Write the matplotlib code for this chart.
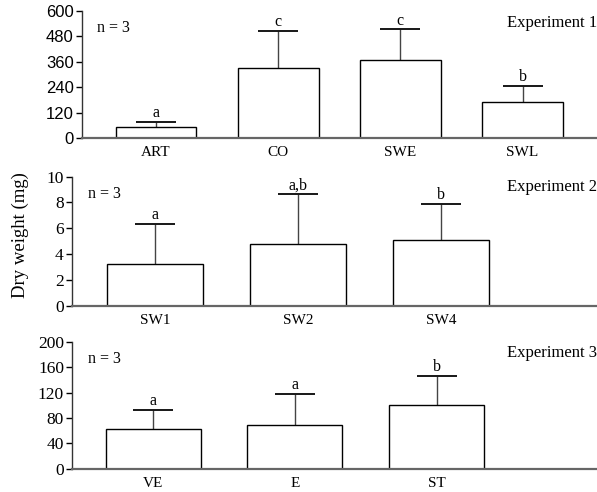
import matplotlib

matplotlib.use("Agg")

import matplotlib.pyplot as plt
import numpy as np

SERIF = ["Liberation Serif", "DejaVu Serif"]
SANS = ["Liberation Sans", "DejaVu Sans"]

# Experiment 1
exp1_labels = ["ART", "CO", "SWE", "SWL"]
exp1_means = [52, 329, 367, 169]
exp1_err = [22, 176, 146, 78]
exp1_letters = ["a", "c", "c", "b"]
exp1_ticks = [0, 120, 240, 360, 480, 600]

# Experiment 2
exp2_labels = ["SW1", "SW2", "SW4"]
exp2_means = [3.2, 4.8, 5.1]
exp2_err = [3.15, 3.85, 2.8]
exp2_letters = ["a", "a,b", "b"]
exp2_ticks = [0, 2, 4, 6, 8, 10]

# Experiment 3
exp3_labels = ["VE", "E", "ST"]
exp3_means = [63, 69, 100]
exp3_err = [30, 49, 47]
exp3_letters = ["a", "a", "b"]
exp3_ticks = [0, 40, 80, 120, 160, 200]


def draw_panel(ax, labels, means, err, letters, ticks, title, xlim, width,
               tick_family, tick_size, letter_pad, title_y):
    x = np.arange(len(labels))
    ax.bar(x, means, width=width, color="white", edgecolor="black",
           linewidth=1.0, zorder=2)
    tops = np.array(means) + np.array(err)
    # error bars: stem from the bar top up to the cap, upper cap only
    ax.vlines(x, means, tops, color="#444444", linewidth=1.0, zorder=1)
    ax.errorbar(x, tops, yerr=0, fmt="none", ecolor="#111111", elinewidth=0,
                capsize=14.4, capthick=1.1, zorder=3)
    for xi, t, lab in zip(x, tops, letters):
        ax.text(xi, t + letter_pad, lab, ha="center", va="bottom",
                family=SERIF, fontsize=11.5)
    ax.set_xlim(*xlim)
    ax.set_ylim(ticks[0], ticks[-1])
    ax.set_yticks(ticks)
    ax.set_yticklabels([str(t) for t in ticks], family=tick_family,
                       fontsize=tick_size)
    ax.set_xticks(x)
    ax.set_xticklabels(labels, family=SERIF, fontsize=11)
    ax.tick_params(axis="x", length=0, pad=6)
    ax.tick_params(axis="y", length=4, width=1, direction="out", pad=2)
    ax.spines[["top", "right"]].set_visible(False)
    ax.spines["bottom"].set_color("#666666")
    ax.spines["bottom"].set_linewidth(1.6)
    ax.spines["left"].set_color("#333333")
    ax.spines["left"].set_linewidth(1.0)
    ax.text(0.03, 0.93, "n = 3", transform=ax.transAxes, ha="left",
            va="top", family=SERIF, fontsize=11.5)
    ax.text(1.0, title_y, title, transform=ax.transAxes, ha="right",
            va="top", family=SERIF, fontsize=12)


fig = plt.figure(figsize=(5.97, 4.92), dpi=100)
ax1 = fig.add_axes([0.1374, 0.7195, 0.862, 0.2581])
ax2 = fig.add_axes([0.1206, 0.3787, 0.8794, 0.2622])
ax3 = fig.add_axes([0.1211, 0.0474, 0.8789, 0.2575])

draw_panel(ax1, exp1_labels, exp1_means, exp1_err, exp1_letters, exp1_ticks,
           "Experiment 1", (-0.607, 3.607), 0.66, SANS, 12, 4, 0.97)
draw_panel(ax2, exp2_labels, exp2_means, exp2_err, exp2_letters, exp2_ticks,
           "Experiment 2", (-0.58, 3.09), 0.67, SERIF, 12.5, 0.05, 0.98)
draw_panel(ax3, exp3_labels, exp3_means, exp3_err, exp3_letters, exp3_ticks,
           "Experiment 3", (-0.57, 3.13), 0.67, SERIF, 12.5, 1, 0.98)

fig.text(0.034, 0.522, "Dry weight (mg)", rotation=90, ha="center",
         va="center", family=SERIF, fontsize=13.5)

fig.savefig("out.png", dpi=100, facecolor="white")
plt.close(fig)
